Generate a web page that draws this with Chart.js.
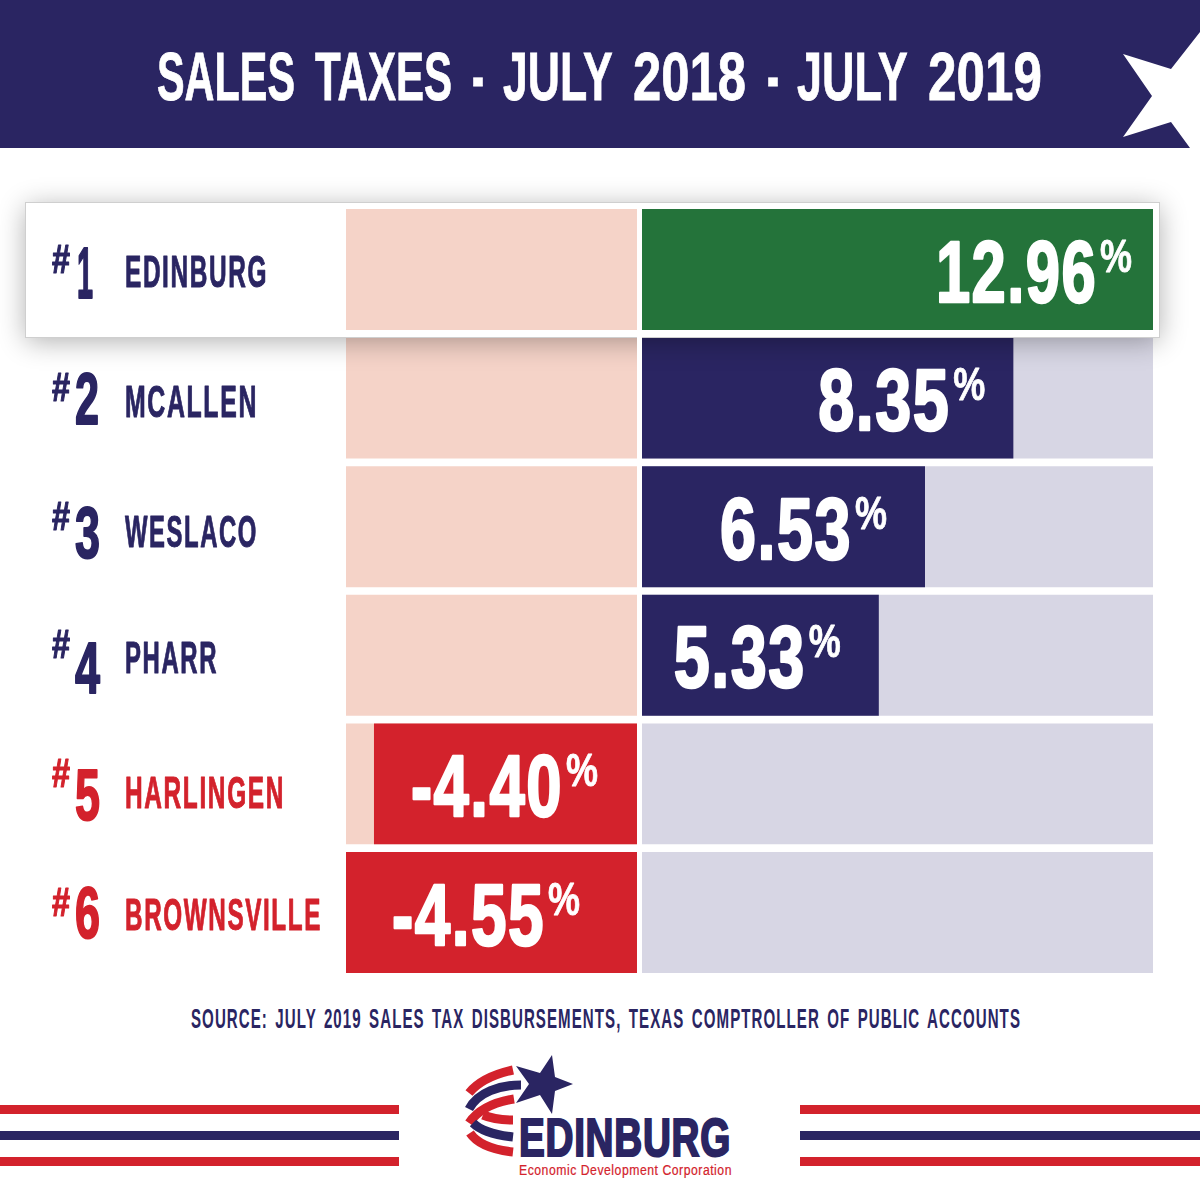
<!DOCTYPE html>
<html>
<head>
<meta charset="utf-8">
<title>Sales Taxes - July 2018 - July 2019</title>
<script src="https://cdn.jsdelivr.net/npm/chart.js@4/dist/chart.umd.js"></script>
<style>
  html, body { margin: 0; padding: 0; background: #fff; }
  #page { position: relative; width: 1200px; height: 1200px; overflow: hidden; }
  #page svg, #page canvas { position: absolute; left: 0; top: 0; }
  svg text { font-family: "Liberation Sans", sans-serif; font-weight: 700; }
</style>
</head>
<body>
<div id="page">
  <svg width="1200" height="1200" viewBox="0 0 1200 1200">
    <!-- header band -->
    <rect x="0" y="0" width="1200" height="148" fill="#2a2562"/>
    <polygon points="1123,54 1171,69 1200,32 1200,148 1190,148 1171,122 1123,137 1152,96" fill="#fff"/>
    <text y="100" font-size="69" fill="#fff" stroke="#fff" stroke-width="0.8" lengthAdjust="spacingAndGlyphs">
      <tspan x="157" textLength="138" lengthAdjust="spacingAndGlyphs">SALES</tspan>
      <tspan x="315" textLength="137" lengthAdjust="spacingAndGlyphs">TAXES</tspan>
      <tspan x="472" textLength="12" lengthAdjust="spacingAndGlyphs">-</tspan>
      <tspan x="503" textLength="109" lengthAdjust="spacingAndGlyphs">JULY</tspan>
      <tspan x="633" textLength="113" lengthAdjust="spacingAndGlyphs">2018</tspan>
      <tspan x="767" textLength="12" lengthAdjust="spacingAndGlyphs">-</tspan>
      <tspan x="797" textLength="110" lengthAdjust="spacingAndGlyphs">JULY</tspan>
      <tspan x="928" textLength="114" lengthAdjust="spacingAndGlyphs">2019</tspan>
    </text>

    <text x="191" y="1028" font-size="28" fill="#2a2562" style="letter-spacing:2px;word-spacing:4px" textLength="830" lengthAdjust="spacingAndGlyphs">SOURCE: JULY 2019 SALES TAX DISBURSEMENTS, TEXAS COMPTROLLER OF PUBLIC ACCOUNTS</text>

    <!-- footer stripes -->
    <rect x="0" y="1105" width="399" height="9" fill="#d3222c"/>
    <rect x="0" y="1131" width="399" height="9" fill="#2a2562"/>
    <rect x="0" y="1157" width="399" height="9" fill="#d3222c"/>
    <rect x="800" y="1105" width="400" height="9" fill="#d3222c"/>
    <rect x="800" y="1131" width="400" height="9" fill="#2a2562"/>
    <rect x="800" y="1157" width="400" height="9" fill="#d3222c"/>

    <!-- logo -->
    <g fill="none" stroke-width="9">
      <path d="M513 1070 C495 1074 478 1082 469 1093" stroke="#d3222c"/>
      <path d="M521 1085 C500 1085 478 1092 469 1109" stroke="#2a2562"/>
      <path d="M514 1099 C495 1102 478 1110 469 1123" stroke="#d3222c"/>
      <path d="M513 1120 C500 1120 490 1118 483 1115" stroke="#d3222c"/>
      <path d="M513 1137 C495 1135 480 1130 473 1123" stroke="#2a2562"/>
      <path d="M513 1152 C495 1150 478 1145 470 1133" stroke="#d3222c"/>
    </g>
    <polygon points="552,1055 555,1077 573,1084 555,1091 552,1114 540,1095 516,1103 529,1084 516,1066 540,1073" fill="#2a2562"/>
    <text x="519" y="1156" font-size="54" fill="#2a2562" stroke="#2a2562" stroke-width="2.2" style="letter-spacing:1px" textLength="212" lengthAdjust="spacingAndGlyphs">EDINBURG</text>
    <text x="519" y="1175" font-size="14" fill="#d3222c" stroke="#d3222c" stroke-width="0.2" style="font-weight:400;letter-spacing:0.6px" textLength="213" lengthAdjust="spacingAndGlyphs">Economic Development Corporation</text>
  </svg>
  <canvas id="salesChart" width="1200" height="1200"></canvas>
</div>

<script>
// Chart data
const cities = ['EDINBURG', 'MCALLEN', 'WESLACO', 'PHARR', 'HARLINGEN', 'BROWNSVILLE'];
const ranks = ['1', '2', '3', '4', '5', '6'];
const rates = [12.96, 8.35, 6.53, 5.33, -4.40, -4.55];
// the bars in the picture are not to scale with the printed rates, so lengths are read separately
const barLengths = [11.565, 8.42, 6.43, 5.39, -5.98, -6.61];
const negativeTrack = [-6.61, -6.61, -6.61, -6.61, -6.61, -6.61];
const positiveTrack = [11.565, 11.565, 11.565, 11.565, 11.565, 11.565];

// Colours
const NAVY = '#2a2562';
const GREEN = '#24733a';
const RED = '#d3222c';
const barColors = [GREEN, NAVY, NAVY, NAVY, RED, RED];
const labelColors = [NAVY, NAVY, NAVY, NAVY, RED, RED];

// Hand placed text offsets, the original artwork is not regular
const nameWidths = [143, 133, 133, 93, 160, 197];
const nameShift = [17.5, 18.5, 20.5, 18, 24, 17];
const rankShift = [28.5, 25.5, 31, 37.5, 36, 25];
const rankX = [77, 75, 75, 75, 75, 75];
const rankWidths = [16, 24, 25, 25, 25, 25];
const valueWidths = [161, 132, 132, 132, 152, 153];
const valueInset = [21, 28, 38, 38, 39, 57];

// Draw text squeezed to an exact width
function squeezed(ctx, text, x, y, size, width, color, bold, spacing) {
    ctx.save();
    ctx.font = `bold ${size}px "Liberation Sans", sans-serif`;
    ctx.letterSpacing = (spacing || 0) + 'px';
    const natural = ctx.measureText(text).width;
    ctx.translate(x, y);
    ctx.scale(width / natural, 1);
    ctx.fillStyle = color;
    ctx.textAlign = 'left';
    ctx.textBaseline = 'alphabetic';
    ctx.fillText(text, 0, 0);
    if (bold) {
        ctx.strokeStyle = color;
        ctx.lineWidth = bold;
        ctx.lineJoin = 'round';
        ctx.strokeText(text, 0, 0);
    }
    ctx.restore();
}

// White card with shadow behind the first row, it also shades the row below
const cardPlugin = {
    id: 'card',
    afterDatasetsDraw(chart) {
        const ctx = chart.ctx;
        ctx.save();
        ctx.shadowColor = 'rgba(0, 0, 0, 0.32)';
        ctx.shadowBlur = 26;
        ctx.shadowOffsetY = 4;
        ctx.fillStyle = '#ffffff';
        ctx.fillRect(26, 203, 1133, 134);
        ctx.restore();
        ctx.strokeStyle = '#cfcfcf';
        ctx.lineWidth = 1;
        ctx.strokeRect(25.5, 202.5, 1134, 135);
        // first row goes back on top of the card
        [2, 1, 0].forEach(i => chart.getDatasetMeta(i).data[0].draw(ctx));
    }
};

// Rank, city and value labels
const labelPlugin = {
    id: 'rowLabels',
    afterDraw(chart) {
        const ctx = chart.ctx;
        const bars = chart.getDatasetMeta(0).data;
        cities.forEach((city, i) => {
            const cy = chart.scales.y.getPixelForValue(i);
            const color = labelColors[i];

            squeezed(ctx, '#', 52, cy + 3, 40, 18, color, 1.2);
            squeezed(ctx, ranks[i], rankX[i], cy + rankShift[i], 72, rankWidths[i], color, 2);
            squeezed(ctx, city, 125, cy + nameShift[i], 45, nameWidths[i], color, 1, 3);

            const props = bars[i].getProps(['x', 'base'], true);
            const end = Math.max(props.x, props.base) - valueInset[i];
            const pctLeft = end - 32;
            const valLeft = pctLeft - 3 - valueWidths[i];
            const valueBase = cy + 32;
            squeezed(ctx, rates[i].toFixed(2), valLeft, valueBase, 87, valueWidths[i], '#ffffff', 2.5, 2);
            squeezed(ctx, '%', pctLeft, valueBase - 30, 46, 32, '#ffffff', 0.8);
        });
    }
};

new Chart(document.getElementById('salesChart'), {
    type: 'bar',
    data: {
        labels: cities,
        datasets: [
            { label: 'Change', data: barLengths, backgroundColor: barColors, order: 1 },
            { label: 'Below zero', data: negativeTrack, backgroundColor: '#f5d3c8', order: 2 },
            { label: 'Above zero', data: positiveTrack, backgroundColor: '#d7d6e4', order: 3 }
        ]
    },
    options: {
        indexAxis: 'y',
        responsive: false,
        animation: false,
        devicePixelRatio: 1,
        grouped: false,
        barPercentage: 0.94,
        categoryPercentage: 1,
        layout: { padding: { left: 346, right: 47, top: 205.2, bottom: 223.2 } },
        scales: {
            x: {
                min: -6.61,
                max: 11.565,
                ticks: { display: false, stepSize: 1 },
                border: { display: false },
                grid: {
                    z: 1,
                    drawTicks: false,
                    lineWidth: 5,
                    color: ctx => (ctx.tick && ctx.tick.value === 0 ? '#ffffff' : 'transparent')
                }
            },
            y: { display: false }
        },
        plugins: {
            legend: { display: false },
            tooltip: { enabled: false }
        }
    },
    plugins: [cardPlugin, labelPlugin]
});
</script>
</body>
</html>
